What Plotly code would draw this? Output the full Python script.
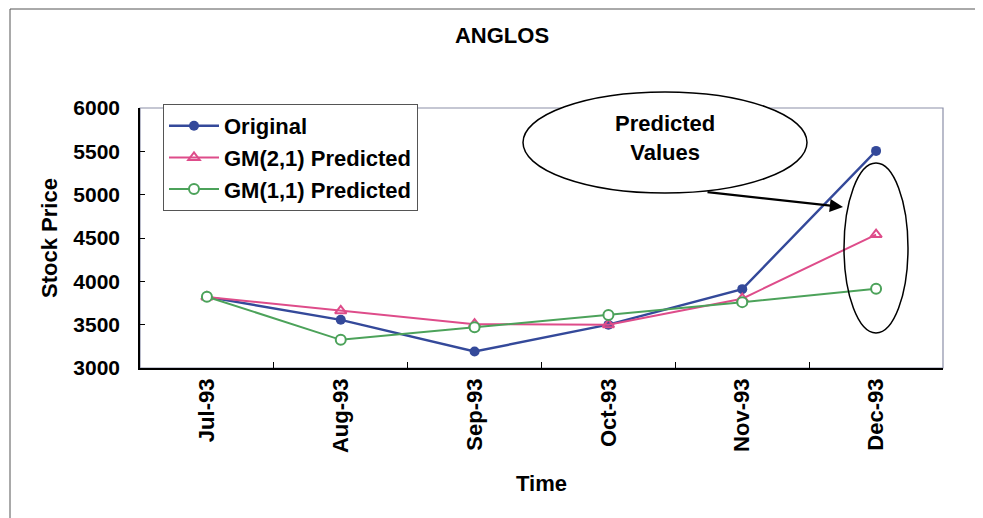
import plotly.graph_objects as go

months = ["Jul-93", "Aug-93", "Sep-93", "Oct-93", "Nov-93", "Dec-93"]
original = [3820, 3556, 3190, 3500, 3910, 5505]
gm21 = [3820, 3660, 3505, 3500, 3800, 4540]
gm11 = [3822, 3325, 3470, 3612, 3760, 3915]
y_ticks = [3000, 3500, 4000, 4500, 5000, 5500, 6000]

BLUE = "#34499A"
PINK = "#DE4C8A"
GREEN = "#4CA25A"
FONT = "Liberation Sans, Arial, sans-serif"
OFF = 8  # page body offset

fig = go.Figure()
fig.add_trace(go.Scatter(x=months, y=original, name="Original", mode="lines+markers",
                         line=dict(color=BLUE, width=2.4),
                         marker=dict(symbol="circle", size=10, color=BLUE)))
fig.add_trace(go.Scatter(x=months, y=gm21, name="GM(2,1) Predicted", mode="lines+markers",
                         line=dict(color=PINK, width=2),
                         marker=dict(symbol="triangle-up-open", size=10, color=PINK, line=dict(width=2))))
fig.add_trace(go.Scatter(x=months, y=gm11, name="GM(1,1) Predicted", mode="lines+markers",
                         line=dict(color=GREEN, width=2),
                         marker=dict(symbol="circle", size=10, color="white", line=dict(color=GREEN, width=2))))

def px(x):
    return (x - 140) / 803

def py(y):
    return (368 - y) / 260

# plot frame (top/right gray)
fig.add_shape(type="rect", xref="paper", yref="paper", x0=0, x1=1, y0=0, y1=1,
              line=dict(color="#8C8FA8", width=1.2), layer="below")
# outer chart border (top & left)
fig.add_shape(type="line", xref="paper", yref="paper", x0=px(10), x1=px(990), y0=py(9), y1=py(9),
              line=dict(color="#555555", width=1))
fig.add_shape(type="line", xref="paper", yref="paper", x0=px(10), x1=px(10), y0=py(530), y1=py(9),
              line=dict(color="#555555", width=1))

# Ellipse around predicted values
fig.add_shape(type="circle", xref="paper", yref="paper", x0=px(844), x1=px(908), y0=py(333), y1=py(163),
              line=dict(color="black", width=1.5))
# Callout ellipse
fig.add_shape(type="circle", xref="paper", yref="paper",
              x0=px(523), x1=px(807), y0=py(193), y1=py(92),
              line=dict(color="black", width=1.5), fillcolor="white", layer="above")
fig.add_annotation(xref="paper", yref="paper", x=px(665), y=py(138), xanchor="center", yanchor="middle",
                   text="Predicted<br>Values", showarrow=False,
                   font=dict(family=FONT, size=22, color="black", weight="bold"))
fig.add_annotation(xref="x domain", yref="y domain",
                   x=px(843), y=py(207),
                   ax=px(706), ay=py(192),
                   axref="x domain", ayref="y domain", text="", showarrow=True,
                   arrowhead=2, arrowsize=1.2, arrowwidth=2.2, arrowcolor="black")

fig.update_layout(
    width=983, height=518,
    margin=dict(l=140 - OFF, r=983 + OFF - 943, t=108 - OFF, b=518 + OFF - 368),
    paper_bgcolor="white", plot_bgcolor="white",
    font=dict(family=FONT, color="black"),
    title=dict(text="ANGLOS", x=(502 - OFF) / 983, xanchor="center", y=1 - (35 - OFF) / 518, yanchor="middle",
               font=dict(family=FONT, size=22, color="black", weight="bold")),
    showlegend=True,
    legend=dict(x=px(163), y=py(104), xanchor="left", yanchor="top",
                bgcolor="white", bordercolor="#555555", borderwidth=1,
                font=dict(family=FONT, size=22, color="black", weight="bold"),
                itemwidth=50, tracegroupgap=0),
)
fig.update_xaxes(type="category", categoryorder="array", categoryarray=months,
                 range=[-0.5, len(months) - 0.5],
                 tickangle=-90, tickson="boundaries", ticks="inside", ticklen=6,
                 tickcolor="black", showline=True, linecolor="black", linewidth=1.5,
                 showgrid=False, zeroline=False,
                 tickfont=dict(family=FONT, size=22, color="black", weight="bold"),
                 title=dict(text="Time", standoff=23,
                            font=dict(family=FONT, size=22, color="black", weight="bold")))
fig.update_yaxes(range=[3000, 6000], tickvals=y_ticks,
                 ticks="inside", ticklen=5, tickcolor="black",
                 showline=True, linecolor="black", linewidth=1.5,
                 showgrid=False, zeroline=False, ticklabelstandoff=14,
                 tickfont=dict(family=FONT, size=21, color="black", weight="bold"),
                 title=dict(text="Stock Price", standoff=10,
                            font=dict(family=FONT, size=22, color="black", weight="bold")))

fig.write_html("out.html")
